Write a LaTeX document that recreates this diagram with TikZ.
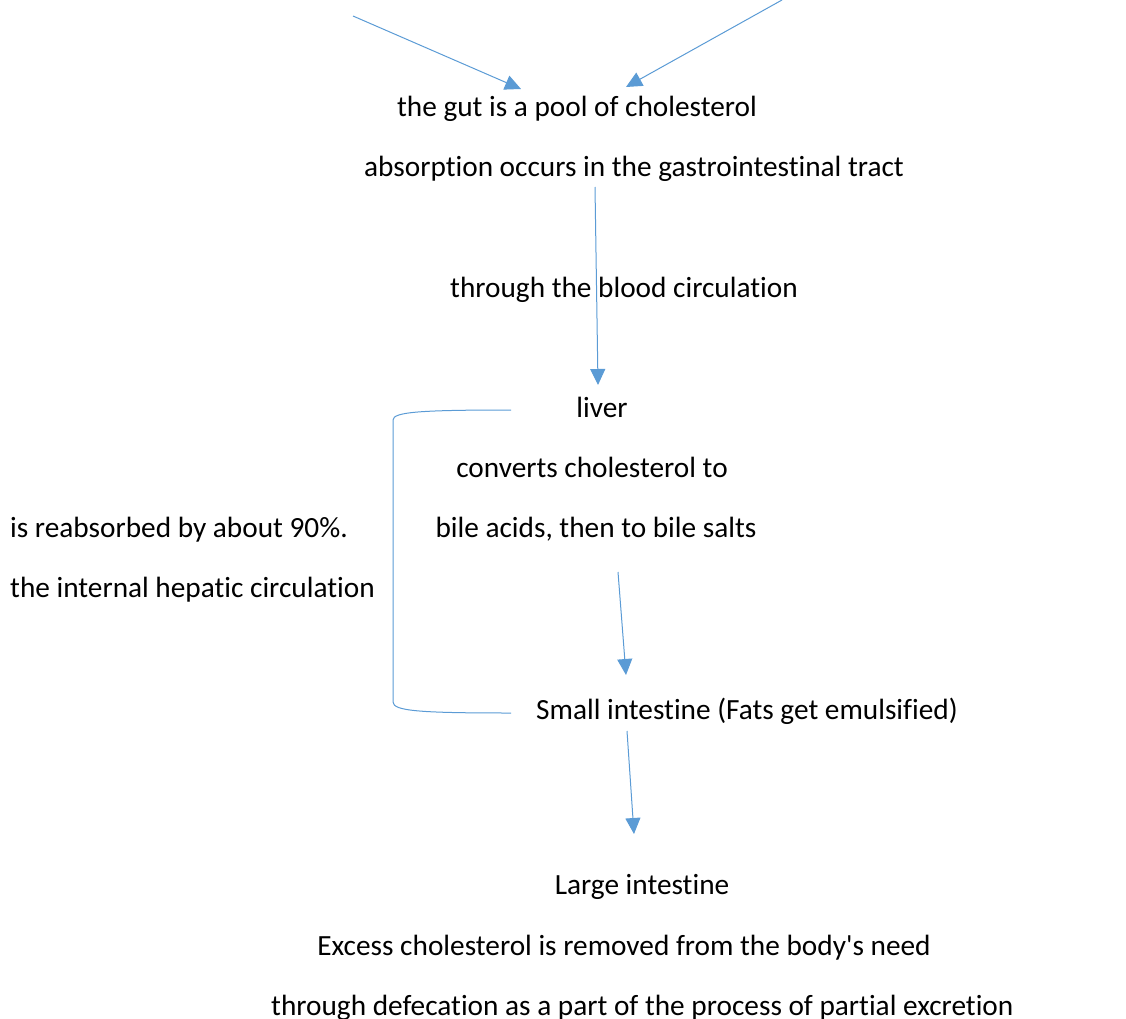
\documentclass[tikz,border=0pt]{standalone}
\usepackage{fontspec}
\newfontfamily\calfont{Carlito}[Ligatures={NoCommon}]
\usetikzlibrary{arrows.meta}
\definecolor{arr}{HTML}{5B9BD5}
\begin{document}
\begin{tikzpicture}[x=1pt,y=-1pt,
  lbl/.style={inner sep=0pt,anchor=base,font=\calfont\fontsize{29.3}{34}\selectfont},
  conn/.style={draw=arr,line width=1pt,-{Triangle[width=15pt,length=16pt]}},
  brk/.style={draw=arr,line width=1pt}]
\useasboundingbox (0,0) rectangle (1126,1019);
\node[lbl] (gut) at (577,117) {the gut is a pool of cholesterol};
\node[lbl] (abs) at (634,177) {absorption occurs in the gastrointestinal tract};
\node[lbl] (blood) at (624,297) {through the blood circulation};
\node[lbl] (liver) at (602,417) {liver};
\node[lbl] (conv) at (592,477) {converts cholesterol to};
\node[lbl] (bile) at (596,537) {bile acids, then to bile salts};
\node[lbl,anchor=base west] (reab) at (10,537) {is reabsorbed by about 90\%.};
\node[lbl,anchor=base west] (hep) at (10,597) {the internal hepatic circulation};
\node[lbl] (small) at (747,719) {Small intestine (Fats get emulsified)};
\node[lbl] (large) at (642,894) {Large intestine};
\node[lbl] (exc) at (624,955) {Excess cholesterol is removed from the body's need};
\node[lbl,anchor=base west] (def) at (271,1015) {through defecation as a part of the process of partial excretion};
\coordinate (s1) at (353,16);
\coordinate (e1) at (521,89);
\coordinate (s2) at (782,0);
\coordinate (e2) at (626,87);
\coordinate (s3) at (595,187);
\coordinate (e3) at (598,385);
\coordinate (s4) at (618,572);
\coordinate (e4) at (626,675);
\coordinate (s5) at (627,731);
\coordinate (e5) at (634,834);
\coordinate (b1) at (511,410);
\coordinate (b2) at (393,420);
\coordinate (b3) at (393,702);
\coordinate (b4) at (511,713);
\draw[conn] (s1) -- (e1);
\draw[conn] (s2) -- (e2);
\draw[conn] (s3) -- (e3);
\draw[conn] (s4) -- (e4);
\draw[conn] (s5) -- (e5);
\draw[brk] (b1) .. controls (420,410) and (393,412) .. (b2) -- (b3) .. controls (393,711) and (420,713) .. (b4);
\end{tikzpicture}
\end{document}
